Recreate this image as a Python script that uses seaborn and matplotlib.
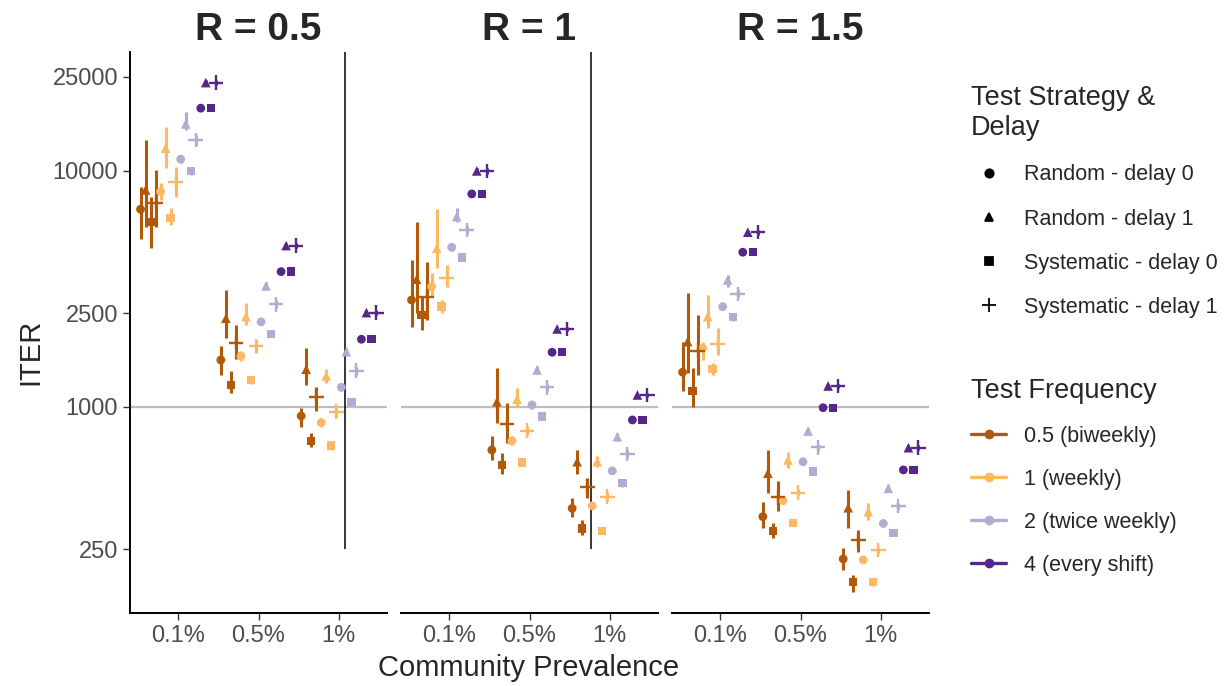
"""
ITER por prevalência comunitária, estratégia de teste e frequência (3 painéis de R).
Saída: out.png
"""

import pandas as pd
import seaborn as sns
import matplotlib.pyplot as plt
from matplotlib.lines import Line2D

# --- DADOS ---
R_LABELS = ["R = 0.5", "R = 1", "R = 1.5"]
PREVALENCE = ["0.1%", "0.5%", "1%"]
FREQUENCY = ["0.5 (biweekly)", "1 (weekly)", "2 (twice weekly)", "4 (every shift)"]
STRATEGY = ["Random - delay 0", "Random - delay 1",
            "Systematic - delay 0", "Systematic - delay 1"]
Y_TICKS = [250, 1000, 2500, 10000, 25000]

# [prevalência][frequência][estratégia]
ITER_R05 = [
    [[6880, 8310, 6060, 7300], [8170, 12480, 6300, 8960], [11210, 15820, 10000, 13530], [18440, 23670, 18440, 23670]],
    [[1581, 2376, 1239, 1873], [1645, 2414, 1301, 1814], [2293, 3257, 2032, 2724], [3744, 4826, 3744, 4826]],
    [[916, 1445, 718, 1106], [858, 1353, 686, 955], [1212, 1715, 1047, 1425], [1936, 2510, 1936, 2510]],
]
LOW_R05 = [
    [[5140, 5810, 4705, 5810], [7540, 10270, 5900, 7780], [10800, 14930, 9600, 12900], [18000, 23100, 18000, 23100]],
    [[1366, 1955, 1143, 1593], [1560, 2226, 1250, 1700], [2220, 3120, 1970, 2620], [3650, 4710, 3650, 4710]],
    [[825, 1239, 679, 964], [820, 1260, 660, 910], [1170, 1650, 1010, 1370], [1890, 2450, 1890, 2450]],
]
HIGH_R05 = [
    [[8580, 13530, 7780, 10090], [8900, 15410, 6970, 10430], [11700, 17830, 10400, 14200], [18900, 24300, 18900, 24300]],
    [[1814, 3132, 1425, 2226], [1730, 2759, 1350, 1930], [2370, 3400, 2100, 2830], [3840, 4950, 3840, 4950]],
    [[993, 1773, 776, 1219], [900, 1450, 715, 1000], [1255, 1780, 1085, 1480], [1985, 2575, 1985, 2575]],
]

ITER_R1 = [
    [[2840, 3476, 2454, 2934], [3234, 4705, 2661, 3531], [4750, 6403, 4291, 5623], [7990, 10000, 7990, 10000]],
    [[657, 1053, 568, 847], [718, 1078, 581, 794], [1020, 1435, 910, 1212], [1705, 2140, 1705, 2140]],
    [[372, 586, 306, 460], [381, 586, 299, 417], [536, 748, 475, 632], [881, 1124, 881, 1124]],
]
LOW_R1 = [
    [[2176, 2495, 2120, 2337], [2934, 3870, 2495, 3234], [4580, 6100, 4140, 5400], [7790, 9750, 7790, 9750]],
    [[596, 853, 520, 702], [690, 1003, 560, 760], [985, 1385, 880, 1170], [1665, 2090, 1665, 2090]],
    [[343, 520, 287, 410], [368, 555, 290, 400], [518, 720, 460, 610], [860, 1097, 860, 1097]],
]
HIGH_R1 = [
    [[4197, 6098, 2934, 4128], [3697, 6880, 2840, 3998], [4920, 6960, 4450, 5850], [8190, 10250, 8190, 10250]],
    [[754, 1459, 637, 1037], [750, 1200, 600, 830], [1055, 1490, 940, 1255], [1745, 2190, 1745, 2190]],
    [[410, 657, 332, 499], [394, 620, 308, 435], [555, 777, 490, 655], [902, 1151, 902, 1151]],
]

ITER_R15 = [
    [[1403, 1891, 1172, 1733], [1773, 2414, 1445, 1849], [2661, 3452, 2399, 3013], [4524, 5500, 4524, 5500]],
    [[343, 524, 299, 414], [401, 596, 323, 433], [586, 791, 532, 675], [993, 1227, 993, 1227]],
    [[227, 374, 181, 273], [225, 360, 181, 248], [321, 452, 292, 381], [541, 672, 541, 672]],
]
LOW_R15 = [
    [[1172, 1389, 1003, 1366], [1581, 2155, 1366, 1661], [2570, 3210, 2320, 2910], [4415, 5370, 4415, 5370]],
    [[306, 433, 278, 364], [388, 550, 313, 418], [567, 765, 515, 653], [970, 1198, 970, 1198]],
    [[204, 306, 165, 244], [218, 332, 175, 240], [311, 437, 283, 369], [528, 656, 528, 656]],
]
HIGH_R15 = [
    [[1891, 3050, 1459, 2454], [1891, 2983, 1532, 2155], [2755, 3640, 2480, 3120], [4635, 5630, 4635, 5630]],
    [[397, 657, 321, 487], [414, 647, 333, 448], [605, 817, 549, 697], [1017, 1256, 1017, 1256]],
    [[252, 445, 194, 301], [232, 391, 187, 256], [331, 467, 301, 393], [554, 688, 554, 688]],
]

# linhas verticais pretas presentes na figura original (posição no eixo x de cada painel)
SEPARATOR_X = [2.08, 1.77, None]

# --- ESTILO ---
FREQ_COLORS = ["#b35806", "#fdb863", "#b2abd2", "#542788"]
MARKERS = {STRATEGY[0]: "o", STRATEGY[1]: "^", STRATEGY[2]: "s", STRATEGY[3]: "+"}
SIZES = {STRATEGY[0]: 40, STRATEGY[1]: 48, STRATEGY[2]: 36, STRATEGY[3]: 110}
GREY_TXT = "#4d4d4d"


def build_frame():
    panels = {
        R_LABELS[0]: (ITER_R05, LOW_R05, HIGH_R05),
        R_LABELS[1]: (ITER_R1, LOW_R1, HIGH_R1),
        R_LABELS[2]: (ITER_R15, LOW_R15, HIGH_R15),
    }
    rows = []
    for r, (vals, lows, highs) in panels.items():
        for pi, prev in enumerate(PREVALENCE):
            for fi, freq in enumerate(FREQUENCY):
                for si, strat in enumerate(STRATEGY):
                    rows.append({
                        "R": r, "Prevalence": prev, "Frequency": freq, "Strategy": strat,
                        # dodge de 16 posições dentro de cada categoria
                        "x": pi + (fi * 4 + si - 7.5) / 16,
                        "ITER": vals[pi][fi][si],
                        "low": lows[pi][fi][si],
                        "high": highs[pi][fi][si],
                        "color": FREQ_COLORS[fi],
                    })
    return pd.DataFrame(rows)


def run_plot():
    df = build_frame()

    sns.set_theme(style="white")
    plt.rcParams["font.family"] = ["Liberation Sans", "DejaVu Sans"]

    fig = plt.figure(figsize=(12.24, 6.86), dpi=100)
    lefts = [130 / 1224, 401 / 1224, 672 / 1224]
    width, bottom, height = 257 / 1224, 1 - 613 / 686, (613 - 52) / 686
    axes = [fig.add_axes([l, bottom, width, height]) for l in lefts]

    for i, (ax, r) in enumerate(zip(axes, R_LABELS)):
        sub = df[df["R"] == r]
        ax.set_yscale("log")
        ax.axhline(1000, color="#bebebe", lw=1.6, zorder=0)

        # barras de incerteza
        ax.vlines(sub["x"], sub["low"], sub["high"], colors=sub["color"], lw=2.2, zorder=1)

        # pontos: um scatter por estratégia (marcadores cheios e '+' não se misturam)
        for strat in STRATEGY:
            s = sub[sub["Strategy"] == strat]
            kw = dict(linewidth=1.7) if MARKERS[strat] == "+" else dict(edgecolor="none")
            sns.scatterplot(data=s, x="x", y="ITER", hue="Frequency", hue_order=FREQUENCY,
                            palette=FREQ_COLORS, marker=MARKERS[strat], s=SIZES[strat],
                            legend=False, ax=ax, zorder=3, **kw)

        ax.set_ylim(134, 31900)
        ax.set_xlim(-0.6, 2.6)
        if SEPARATOR_X[i] is not None:
            ax.vlines(SEPARATOR_X[i], 250, 31900, color="black", lw=1.1, zorder=2)

        ax.set_xticks(range(len(PREVALENCE)))
        ax.set_xticklabels(PREVALENCE)
        ax.set_yticks(Y_TICKS)
        ax.set_yticklabels([str(t) for t in Y_TICKS])
        ax.minorticks_off()
        ax.set_xlabel("")
        ax.set_ylabel("")
        ax.set_title(r, fontsize=28, fontweight="bold", pad=9)

        for side in ["top", "right"]:
            ax.spines[side].set_visible(False)
        ax.spines["bottom"].set_color("black")
        ax.spines["bottom"].set_linewidth(1.4)
        if i == 0:
            ax.spines["left"].set_color("black")
            ax.spines["left"].set_linewidth(1.4)
            ax.tick_params(axis="y", left=True, length=5, width=1, color="#333333",
                           labelsize=17, labelcolor=GREY_TXT)
        else:
            ax.spines["left"].set_visible(False)
            ax.tick_params(axis="y", left=False, labelleft=False)
        ax.tick_params(axis="x", bottom=True, length=5, width=1, color="#333333",
                       labelsize=17, labelcolor=GREY_TXT, pad=4)

    fig.text(0.025, 0.487, "ITER", rotation=90, fontsize=21, ha="center", va="center")
    fig.text(0.432, 0.026, "Community Prevalence", fontsize=21, ha="center", va="center")

    # legenda 1: estratégia (só forma)
    h_strat = [Line2D([], [], color="black", marker=MARKERS[s], linestyle="none",
                      markersize=6 if MARKERS[s] != "+" else 10, markeredgewidth=1.3)
               for s in STRATEGY]
    leg1 = fig.legend(h_strat, STRATEGY, title="Test Strategy &\nDelay", loc="upper left",
                      bbox_to_anchor=(971 / 1224, 1 - 85 / 686), frameon=False,
                      fontsize=15.5, title_fontsize=19.5, handlelength=1.63,
                      handletextpad=0.84, labelspacing=1.08, borderpad=0, borderaxespad=0)
    leg1._legend_box.align = "left"

    # legenda 2: frequência (linha + ponto, como pointrange)
    h_freq = [Line2D([], [], color=c, marker="o", lw=2.4, markersize=6) for c in FREQ_COLORS]
    leg2 = fig.legend(h_freq, FREQUENCY, title="Test Frequency", loc="upper left",
                      bbox_to_anchor=(971 / 1224, 1 - 378 / 686), frameon=False,
                      fontsize=15.5, title_fontsize=19.5, handlelength=1.63,
                      handletextpad=0.84, labelspacing=1.02, borderpad=0, borderaxespad=0)
    leg2._legend_box.align = "left"

    fig.savefig("out.png", dpi=100)


if __name__ == "__main__":
    run_plot()
